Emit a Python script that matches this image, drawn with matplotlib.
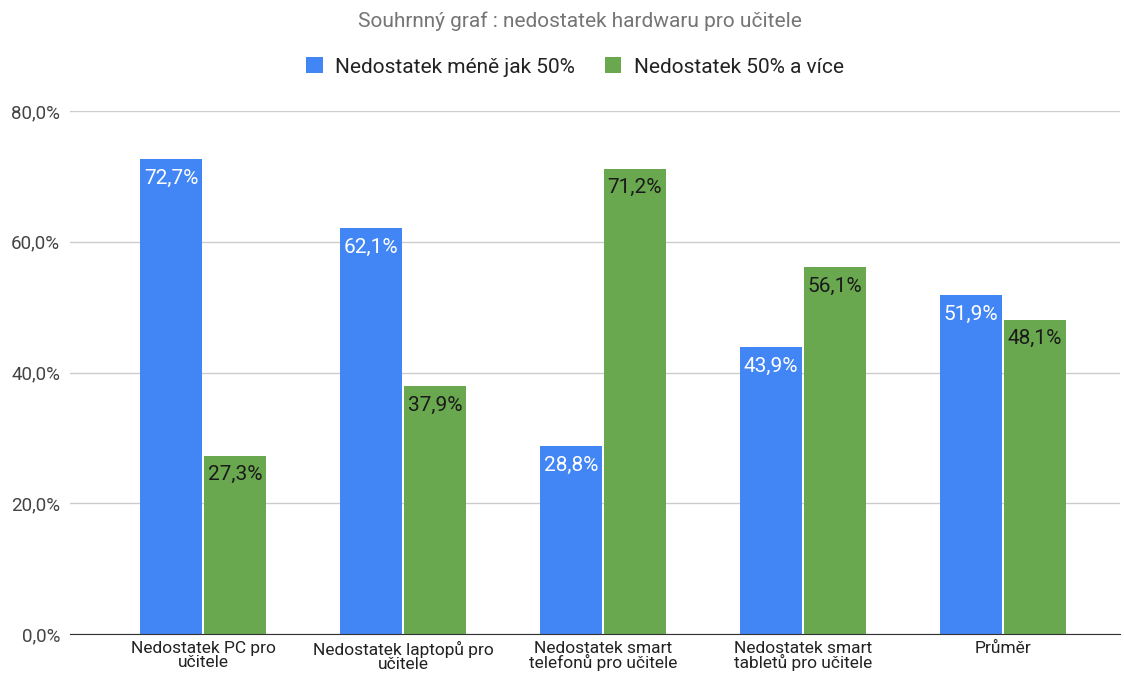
import matplotlib.pyplot as plt
import numpy as np

plt.rcParams['font.family'] = ['Roboto', 'DejaVu Sans']

categories = ['Nedostatek PC pro\nučitele', 'Nedostatek laptopů pro\nučitele',
              'Nedostatek smart\ntelefonů pro učitele', 'Nedostatek smart\ntabletů pro učitele',
              'Průměr']
less_50 = [72.7, 62.1, 28.8, 43.9, 51.9]
more_50 = [27.3, 37.9, 71.2, 56.1, 48.1]
series_names = ['Nedostatek méně jak 50%', 'Nedostatek 50% a více']
yticks = [0, 20, 40, 60, 80]

blue = '#4285F4'
green = '#6AA84F'

fig = plt.figure(figsize=(11.24, 6.77), dpi=100)
ax = fig.add_axes([70 / 1124, 1 - 634 / 677, 1050 / 1124, (634 - 111) / 677])

x = np.arange(len(categories))
w = 0.31
b1 = ax.bar(x - 0.16, less_50, w, color=blue, label=series_names[0], zorder=3)
b2 = ax.bar(x + 0.16, more_50, w, color=green, label=series_names[1], zorder=3)

def fmt(v):
    return f'{v:.1f}%'.replace('.', ',')

for bars, vals, c in [(b1, less_50, 'white'), (b2, more_50, '#1a1a1a')]:
    for rect, v in zip(bars, vals):
        ax.annotate(fmt(v), (rect.get_x() + rect.get_width() / 2, v),
                    xytext=(0, -7), textcoords='offset points',
                    ha='center', va='top', color=c, fontsize=15, zorder=4)

ax.set_xlim((70 - 203) / 200, (1120 - 203) / 200)
ax.set_ylim(0, 80)
ax.set_yticks(yticks)
ax.set_yticklabels([f'{t:.1f}%'.replace('.', ',') for t in yticks], fontsize=13.5, color='#444444')
ax.set_xticks(x)
ax.set_xticklabels(categories, fontsize=12.5, color='#222222', linespacing=0.88)
ax.tick_params(axis='both', length=0)
ax.tick_params(axis='y', pad=7)
ax.tick_params(axis='x', pad=5)

ax.grid(axis='y', color='#cccccc', linewidth=1, zorder=0)
for s in ['top', 'right', 'left']:
    ax.spines[s].set_visible(False)
ax.spines['bottom'].set_color('#333333')
ax.spines['bottom'].set_zorder(5)

fig.text(580 / 1124, 1 - 21 / 677, 'Souhrnný graf : nedostatek hardwaru pro učitele',
         ha='center', va='center', fontsize=15, color='#757575')
fig.legend(handles=[b1, b2], loc='center', bbox_to_anchor=(575 / 1124, 1 - 67 / 677),
           ncol=2, frameon=False, fontsize=15, handlelength=0.8, handleheight=0.8,
           handletextpad=0.6, columnspacing=1.4, labelcolor='#222222')

fig.savefig('out.png', dpi=100)
